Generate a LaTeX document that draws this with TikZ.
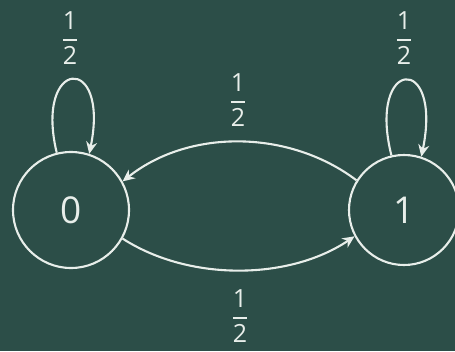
\documentclass[tikz,border=0pt]{standalone}
\usepackage{amsmath}
\usepackage{fontspec}
\setmainfont{Open Sans}
\usetikzlibrary{arrows.meta}
\definecolor{board}{RGB}{44,78,72}
\definecolor{chalk}{RGB}{232,238,234}
\newcommand{\chfrac}[2]{$\genfrac{}{}{2pt}{0}{\mbox{#1}}{\mbox{#2}}$}
\tikzset{
  statenode/.style={draw=chalk, line width=2.1pt, circle, inner sep=0pt, text=chalk, font=\fontsize{37}{40}\selectfont},
  edge/.style={draw=chalk, line width=2.1pt, -{Stealth[length=12pt,width=11pt]}},
  prob/.style={text=chalk, inner sep=0pt, font=\fontsize{25}{28}\selectfont, color=chalk}
}
\begin{document}
\begin{tikzpicture}[x=1pt,y=-1pt]
\fill[board] (0,0) rectangle (455,351);
\useasboundingbox (0,0) rectangle (455,351);
\node[statenode, minimum size=116pt] (n0) at (71,210) {0};
\node[statenode, minimum size=110pt] (n1) at (404,210) {1};
\draw[edge] (n0.104) .. controls (34,58) and (110,52) .. (n0.72);
\draw[edge] (n1.103) .. controls (367,58) and (443,52) .. (n1.72);
\draw[edge] (n1.148) .. controls (290,130) and (190,128) .. (n0.29);
\draw[edge] (n0.-29) .. controls (190,282) and (290,280) .. (n1.-152);
\node[prob] (p00) at (70,38) {\chfrac{1}{2}};
\node[prob] (p11) at (404,38) {\chfrac{1}{2}};
\node[prob] (p10) at (238,100) {\chfrac{1}{2}};
\node[prob] (p01) at (240,316) {\chfrac{1}{2}};
\end{tikzpicture}
\end{document}
